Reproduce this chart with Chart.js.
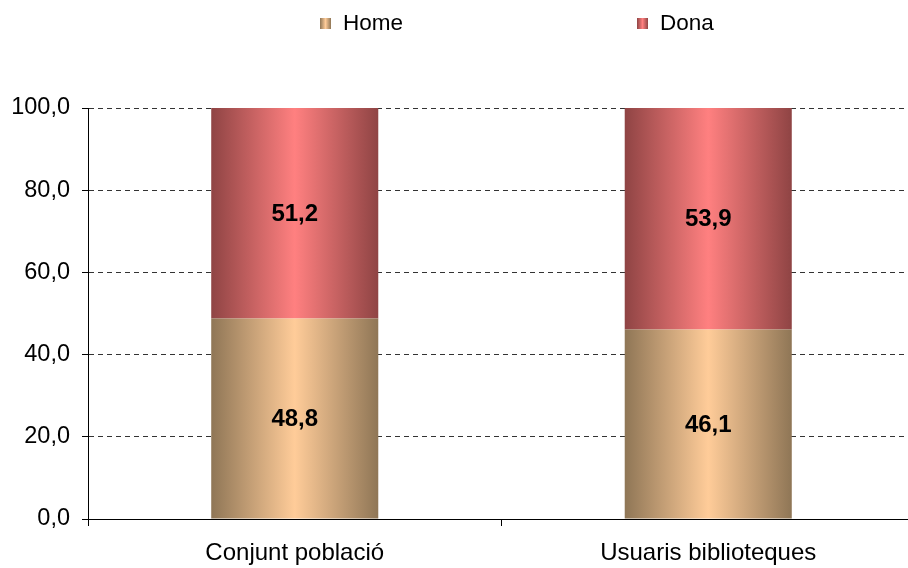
<!DOCTYPE html>
<html>
<head>
<meta charset="utf-8">
<script src="https://cdn.jsdelivr.net/npm/chart.js@4/dist/chart.umd.min.js"></script>
<style>
  html, body { margin:0; padding:0; background:#fff; overflow:hidden; width:908px; height:568px; }
  #wrap { position:relative; width:915px; height:568px; }
  canvas { display:block; }
  .leg { position:absolute; top:10px; font-family:"Liberation Sans", Arial, sans-serif; font-size:22.5px; color:#000; display:flex; align-items:center; }
  .box { width:11px; height:11px; margin-right:12px; }
</style>
</head>
<body>
<div id="wrap">
  <canvas id="c" width="915" height="568"></canvas>
  <div class="leg" style="left:320px;"><div class="box" style="background:linear-gradient(to right,#8f7656,#ffcc99,#8f7656);"></div><span>Home</span></div>
  <div class="leg" style="left:637px;"><div class="box" style="background:linear-gradient(to right,#8f4444,#ff8080,#8f4444);"></div><span>Dona</span></div>
</div>
<script>
const categories = ["Conjunt població", "Usuaris biblioteques"];
const homeValues = [48.8, 46.1];
const donaValues = [51.2, 53.9];
const seriesNames = ["Home", "Dona"];
const yTicks = [0, 20, 40, 60, 80, 100];

const FONT = '"Liberation Sans", Arial, sans-serif';
const BAR_PCT = 0.404;

function gradFor(dark, light) {
  return function(ctx) {
    const chart = ctx.chart;
    const xs = chart.scales.x;
    if (!xs || !chart.chartArea) return light;
    const c = xs.getPixelForValue(ctx.dataIndex);
    const hw = (xs.width / categories.length) * BAR_PCT / 2;
    const g = chart.ctx.createLinearGradient(c - hw, 0, c + hw, 0);
    g.addColorStop(0, dark);
    g.addColorStop(0.5, light);
    g.addColorStop(1, dark);
    return g;
  };
}

const labelPlugin = {
  id: 'barLabels',
  afterDatasetsDraw(chart) {
    const ctx = chart.ctx;
    ctx.save();
    ctx.font = 'bold 24px ' + FONT;
    ctx.fillStyle = '#000';
    ctx.textAlign = 'center';
    ctx.textBaseline = 'middle';
    chart.data.datasets.forEach((ds, di) => {
      chart.getDatasetMeta(di).data.forEach((el, i) => {
        const v = ds.data[i];
        const y = (el.y + el.base) / 2;
        ctx.fillText(v.toFixed(1).replace('.', ','), el.x, y + 1);
      });
    });
    ctx.restore();
  }
};

new Chart(document.getElementById('c'), {
  type: 'bar',
  data: {
    labels: categories,
    datasets: [
      { label: seriesNames[0], data: homeValues, backgroundColor: gradFor('#8f7656', '#ffcc99'), borderWidth: 0 },
      { label: seriesNames[1], data: donaValues, backgroundColor: gradFor('#8f4444', '#ff8080'), borderWidth: 0 }
    ]
  },
  options: {
    responsive: false,
    animation: false,
    layout: { padding: { top: 108, left: 0, right: 0, bottom: 0 } },
    datasets: { bar: { barPercentage: BAR_PCT, categoryPercentage: 1.0 } },
    plugins: { legend: { display: false }, tooltip: { enabled: false } },
    scales: {
      x: {
        stacked: true,
        grid: { display: true, drawOnChartArea: false, drawTicks: true, tickLength: 7, color: '#000', offset: true },
        border: { display: true, color: '#000', width: 1 },
        ticks: { font: { family: FONT, size: 24 }, color: '#000', padding: 13 },
        afterFit(s) { s.height = 49; }
      },
      y: {
        stacked: true,
        min: 0, max: 100,
        afterBuildTicks(s) { s.ticks = yTicks.map(v => ({ value: v })); },
        grid: {
          color: (c) => c.tick && c.tick.value === 0 ? 'rgba(0,0,0,0)' : '#333',
          tickColor: '#000',
          tickBorderDash: [],
          tickLength: 6
        },
        border: { display: true, color: '#000', width: 1, dash: [5, 4] },
        ticks: {
          font: { family: FONT, size: 23.5 }, color: '#000', padding: 12,
          callback: (v) => Number(v).toFixed(1).replace('.', ',')
        },
        afterFit(s) { s.width = 88; }
      }
    }
  },
  plugins: [labelPlugin]
});
</script>
</body>
</html>
